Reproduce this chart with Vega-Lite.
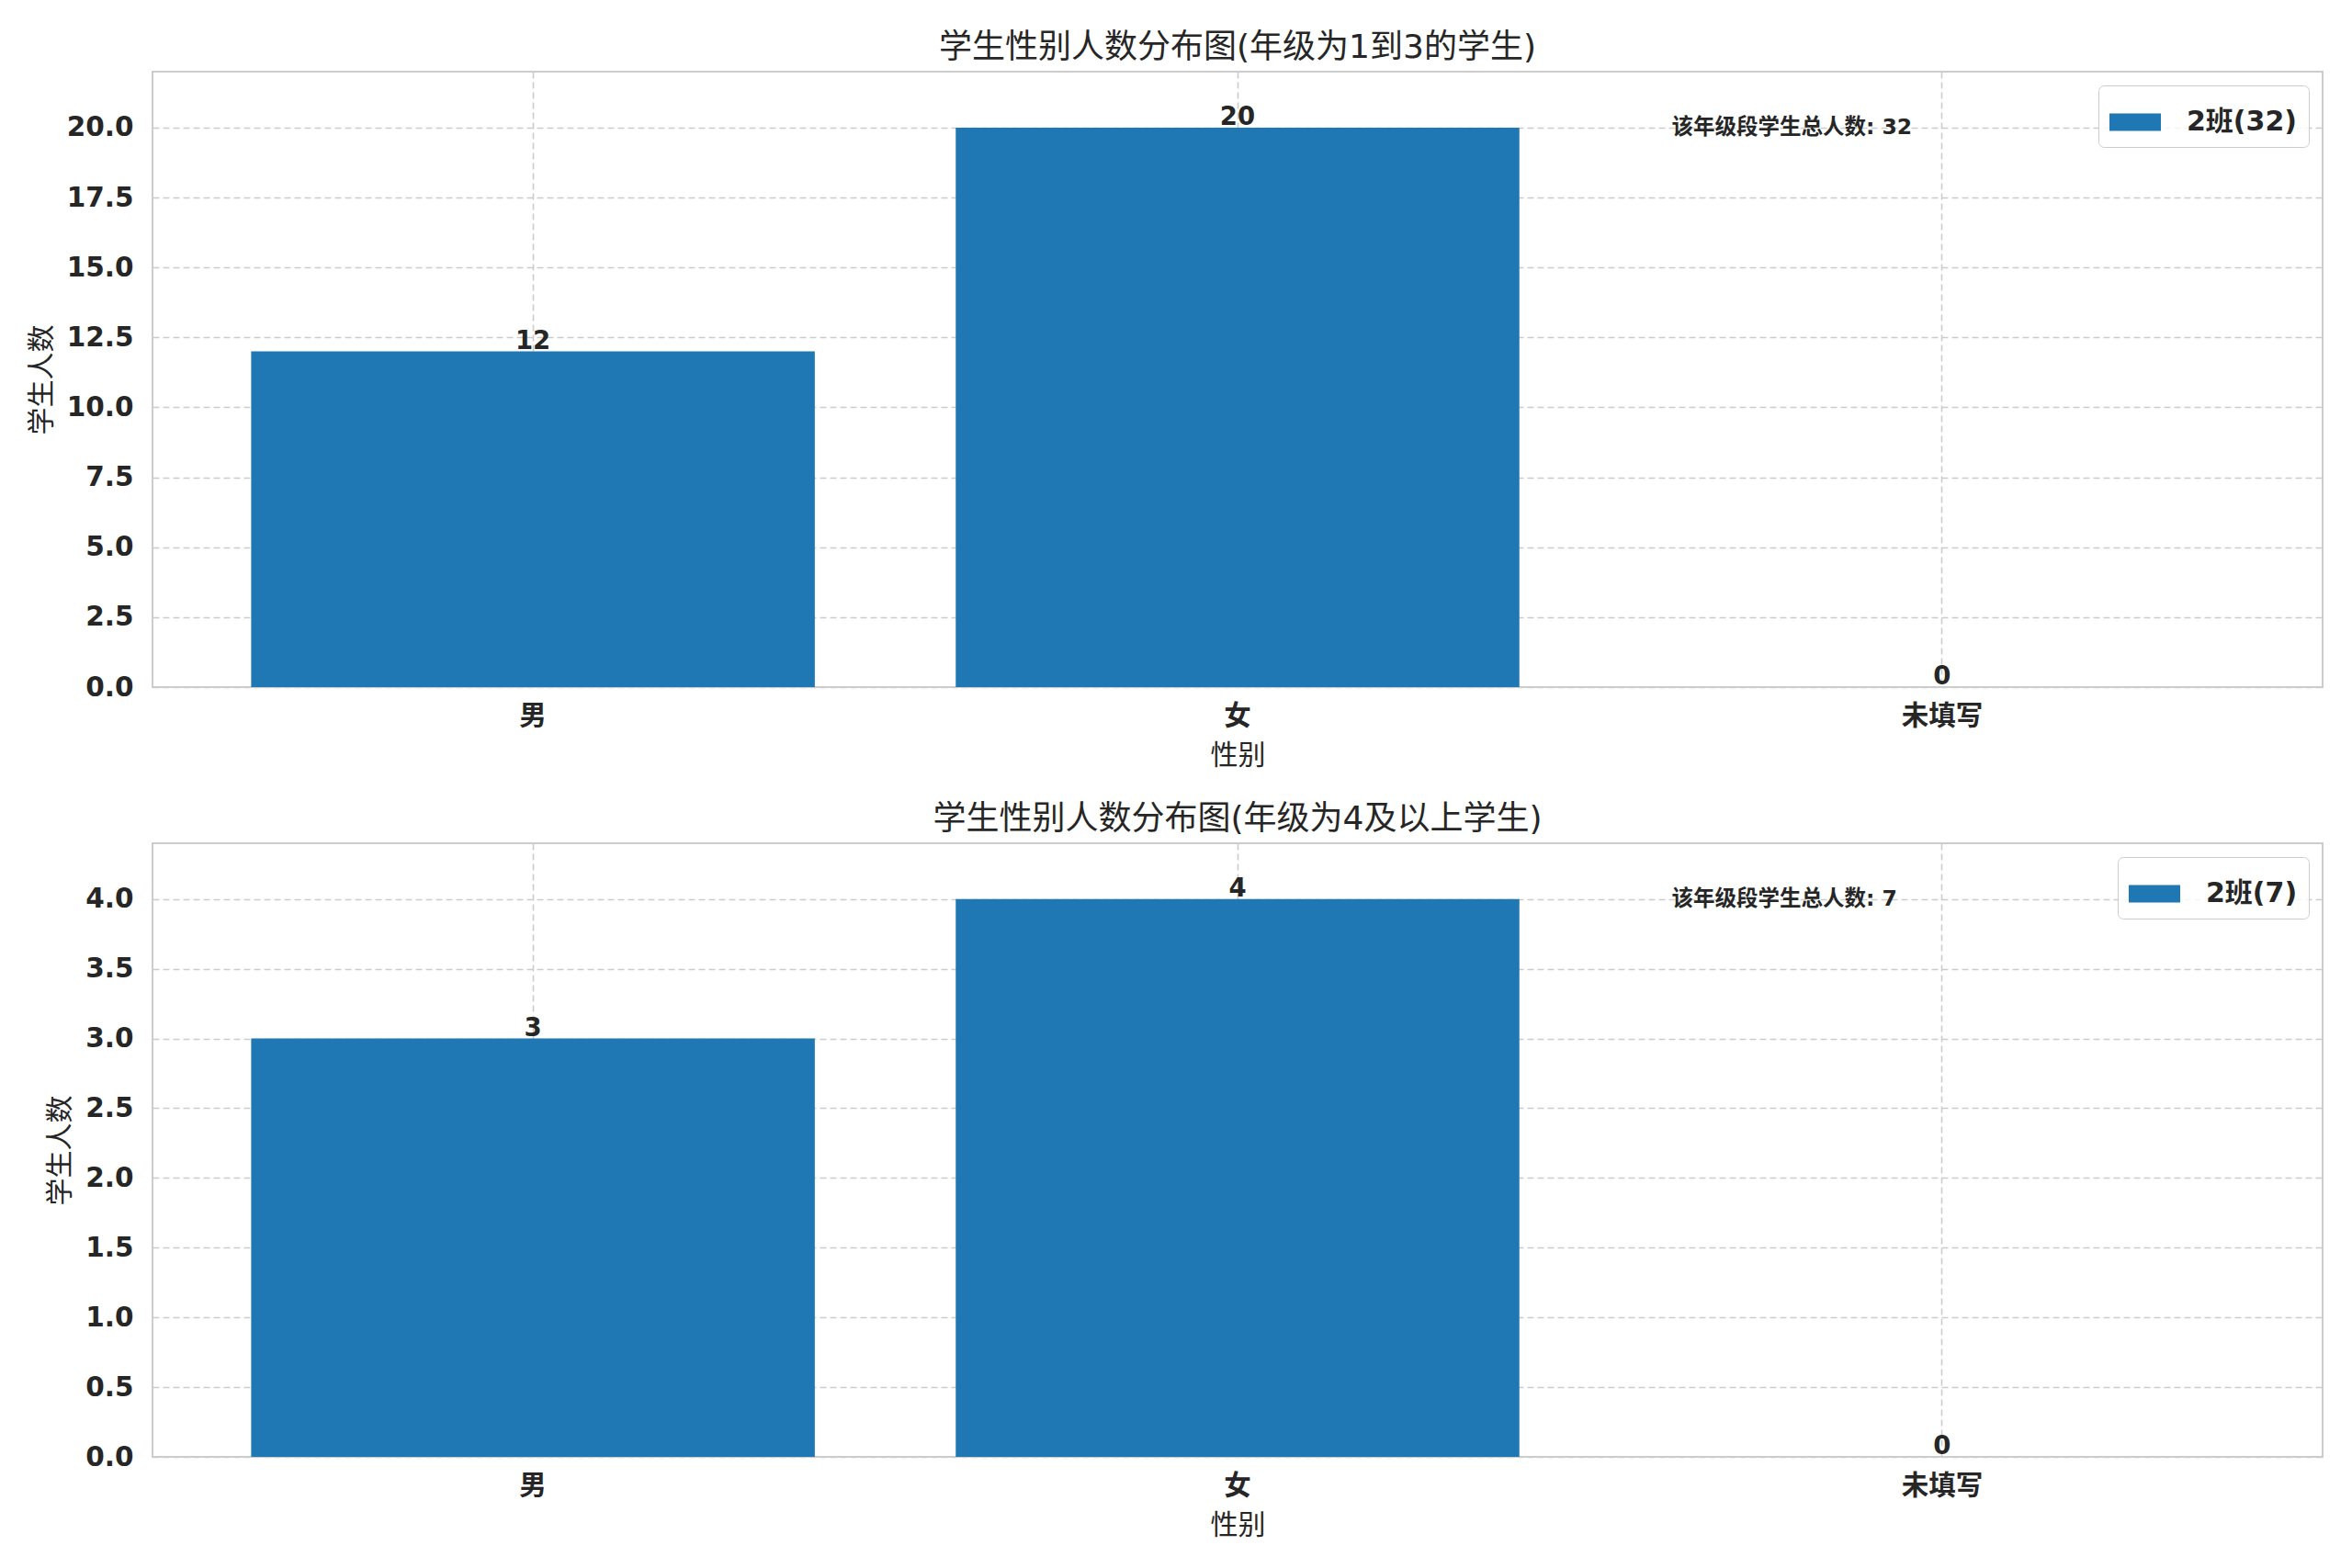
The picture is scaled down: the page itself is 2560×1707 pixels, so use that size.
{
  "$schema": "https://vega.github.io/schema/vega-lite/v6.json",
  "background": "white",
  "padding": {"left": 29, "top": 33, "right": 30, "bottom": 10},
  "datasets": {
    "lower": [
      {"gender": "男", "count": 12},
      {"gender": "女", "count": 20},
      {"gender": "未填写", "count": 0}
    ],
    "upper": [
      {"gender": "男", "count": 3},
      {"gender": "女", "count": 4},
      {"gender": "未填写", "count": 0}
    ],
    "lowerNote": [{"gender": "未填写", "y": 20, "note": "该年级段学生总人数: 32"}],
    "upperNote": [{"gender": "未填写", "y": 4, "note": "该年级段学生总人数: 7"}]
  },
  "spacing": 34,
  "vconcat": [
    {
      "width": 2362,
      "height": 670,
      "title": "学生性别人数分布图(年级为1到3的学生)",
      "layer": [
        {
          "data": {"name": "lower"},
          "mark": {"type": "bar", "color": "#1f77b4"},
          "encoding": {
            "x": {
              "field": "gender", "type": "nominal", "sort": null,
              "scale": {"domain": ["男", "女", "未填写"], "paddingInner": 0.2, "paddingOuter": 0.14},
              "axis": {"title": "性别", "labelAngle": 0, "bandPosition": 0.5}
            },
            "y": {
              "field": "count", "type": "quantitative",
              "scale": {"domain": [0, 22], "nice": false},
              "axis": {"title": "学生人数", "format": ".1f", "values": [0, 2.5, 5, 7.5, 10, 12.5, 15, 17.5, 20]}
            },
            "color": {"datum": "2班(32)", "type": "nominal", "scale": {"range": ["#1f77b4"]}, "legend": {"title": null}}
          }
        },
        {
          "data": {"name": "lower"},
          "mark": {"type": "text", "baseline": "alphabetic", "dy": -3, "fontSize": 27.5, "fontWeight": "bold", "color": "#262626"},
          "encoding": {
            "x": {"field": "gender", "type": "nominal", "sort": null},
            "y": {"field": "count", "type": "quantitative"},
            "text": {"field": "count", "type": "quantitative"}
          }
        },
        {
          "data": {"name": "lowerNote"},
          "mark": {"type": "text", "align": "left", "baseline": "middle", "fontSize": 23.5, "fontWeight": "bold", "color": "#262626"},
          "encoding": {
            "x": {"field": "gender", "type": "nominal", "bandPosition": 0.02},
            "y": {"field": "y", "type": "quantitative"},
            "text": {"field": "note"}
          }
        }
      ]
    },
    {
      "width": 2362,
      "height": 668,
      "title": "学生性别人数分布图(年级为4及以上学生)",
      "layer": [
        {
          "data": {"name": "upper"},
          "mark": {"type": "bar", "color": "#1f77b4"},
          "encoding": {
            "x": {
              "field": "gender", "type": "nominal", "sort": null,
              "scale": {"domain": ["男", "女", "未填写"], "paddingInner": 0.2, "paddingOuter": 0.14},
              "axis": {"title": "性别", "labelAngle": 0, "bandPosition": 0.5}
            },
            "y": {
              "field": "count", "type": "quantitative",
              "scale": {"domain": [0, 4.4], "nice": false},
              "axis": {"title": "学生人数", "format": ".1f", "values": [0, 0.5, 1, 1.5, 2, 2.5, 3, 3.5, 4]}
            },
            "color": {"datum": "2班(7)", "type": "nominal", "scale": {"range": ["#1f77b4"]}, "legend": {"title": null}}
          }
        },
        {
          "data": {"name": "upper"},
          "mark": {"type": "text", "baseline": "alphabetic", "dy": -3, "fontSize": 27.5, "fontWeight": "bold", "color": "#262626"},
          "encoding": {
            "x": {"field": "gender", "type": "nominal", "sort": null},
            "y": {"field": "count", "type": "quantitative"},
            "text": {"field": "count", "type": "quantitative"}
          }
        },
        {
          "data": {"name": "upperNote"},
          "mark": {"type": "text", "align": "left", "baseline": "middle", "fontSize": 23.5, "fontWeight": "bold", "color": "#262626"},
          "encoding": {
            "x": {"field": "gender", "type": "nominal", "bandPosition": 0.02},
            "y": {"field": "y", "type": "quantitative"},
            "text": {"field": "note"}
          }
        }
      ]
    }
  ],
  "resolve": {
    "scale": {"y": "independent", "color": "independent"},
    "legend": {"color": "independent"}
  },
  "config": {
    "font": "DejaVu Sans, Noto Sans CJK SC",
    "view": {"stroke": "#cccccc", "strokeWidth": 2},
    "title": {"fontSize": 36, "fontWeight": "normal", "color": "#262626", "offset": 7},
    "axis": {
      "domain": false,
      "ticks": false,
      "tickSize": 0,
      "grid": true,
      "gridColor": "#cccccc",
      "gridDash": [7, 4],
      "gridWidth": 1.6,
      "labelFontSize": 29.5,
      "labelFontWeight": "bold",
      "labelColor": "#262626",
      "titleFontSize": 30,
      "titleFontWeight": "normal",
      "titleColor": "#262626"
    },
    "axisX": {"labelPadding": 17, "titlePadding": 14},
    "axisY": {"labelPadding": 21, "titlePadding": 12},
    "legend": {
      "orient": "top-right",
      "offset": 15,
      "padding": 12,
      "strokeColor": "#cccccc",
      "cornerRadius": 6,
      "fillColor": "rgba(255,255,255,0.8)",
      "symbolType": "M-1,-0.34H1V0.34H-1Z",
      "symbolSize": 3136,
      "symbolStrokeWidth": 0,
      "labelFontSize": 30,
      "labelFontWeight": "bold",
      "labelColor": "#262626",
      "labelOffset": 28
    }
  }
}
